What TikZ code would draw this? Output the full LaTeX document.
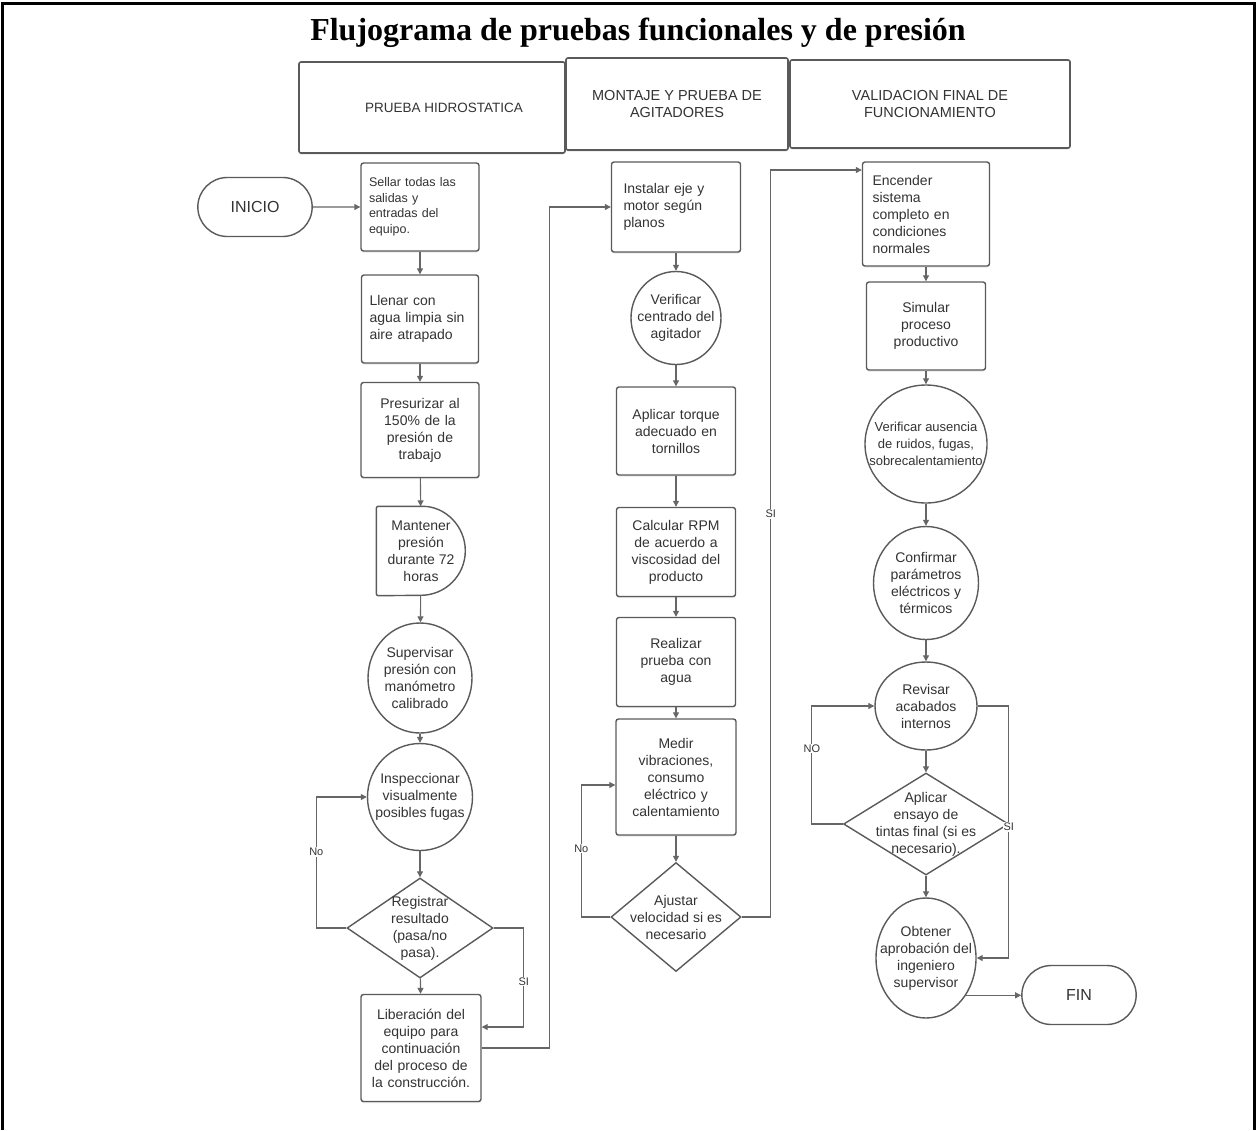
\documentclass[tikz,border=0pt]{standalone}
\usepackage{fontspec}
\setmainfont{Liberation Sans}
\newfontfamily\titlefont{Liberation Serif}
\usetikzlibrary{arrows.meta,shapes.geometric,shapes.misc,shadows}
\definecolor{lucline}{HTML}{666666}
\definecolor{lucedge}{HTML}{5A5A5A}
\definecolor{luctext}{HTML}{333333}
\tikzset{
  lane/.style={draw=lucedge, rounded corners=2pt, line width=1.6pt, fill=white,
               align=center, text=luctext, font=\fontsize{14.5}{17}\selectfont,
               drop shadow={shadow xshift=0pt, shadow yshift=-1.5pt, opacity=0.2}},
  box/.style={draw=lucedge, rounded corners=2.5pt, line width=1.4pt, fill=white,
              inner sep=0pt, text=luctext, font=\fontsize{14}{17}\selectfont,
              drop shadow={shadow xshift=0pt, shadow yshift=-1.5pt, opacity=0.2}},
  boxl/.style={box, align=left},
  boxc/.style={box, align=center},
  oval/.style={ellipse, draw=lucedge, line width=1.4pt, fill=white, inner sep=0pt},
  dec/.style={diamond, draw=lucedge, line width=1.4pt, fill=white, inner sep=0pt},
  term/.style={rounded rectangle, draw=lucedge, line width=1.4pt, fill=white,
               text=luctext, font=\fontsize{16}{19}\selectfont,
               minimum width=121pt, minimum height=59pt},
  txt/.style={align=center, text=luctext, font=\fontsize{14}{17}\selectfont, inner sep=0pt},
  arrow/.style={-{Triangle[width=6pt,length=6pt]}, line width=1.1pt, lucline},
  lbl/.style={fill=white, inner sep=1pt, text=luctext, font=\fontsize{11}{13}\selectfont},
}

\begin{document}
\begin{tikzpicture}[x=1pt, y=-1pt]
  \useasboundingbox (0,0) rectangle (1257,1130);
  % page frame (open at the bottom)
  \draw[line width=3pt] (2,1130) -- (2,3) -- (1254,3) -- (1254,1130);

  \node[font=\titlefont\bfseries\fontsize{32}{38}\selectfont, anchor=base] (title)
    at (638,40) {Flujograma de pruebas funcionales y de presión};

  % lanes
  \node[lane, minimum width=266pt, minimum height=91pt, font=\fontsize{13.5}{16}\selectfont]
    (laneA) at (432,107.5) {\hspace*{24pt}PRUEBA HIDROSTATICA};
  \node[lane, minimum width=280pt, minimum height=88pt] (laneC) at (930,104) {VALIDACION FINAL DE\\FUNCIONAMIENTO};
  \node[lane, minimum width=222pt, minimum height=92pt] (laneB) at (677,104) {MONTAJE Y PRUEBA DE\\AGITADORES};

  % prueba hidrostatica
  \node[term] (ini) at (255,207) {INICIO};
  \node[boxl, minimum width=118pt, minimum height=88pt, text width=102pt,
        font=\fontsize{12.5}{15.5}\selectfont] (sel) at (420,207)
        {Sellar todas las\\salidas y\\entradas del\\equipo.};
  \node[boxl, minimum width=117pt, minimum height=88pt, text width=101pt] (lle) at (420,319)
        {Llenar con\\agua limpia sin\\aire atrapado};
  \node[boxc, minimum width=118pt, minimum height=95pt, text width=108pt] (pre) at (420,430)
        {Presurizar al\\150\% de la\\presión de\\trabajo};
  \node[txt, minimum width=89pt, minimum height=89pt] (man) at (421,551)
        {Mantener\\presión\\durante 72\\horas};
  \draw[draw=lucedge, line width=1.4pt, rounded corners=2pt] (man.north west) -- ++(44.5,0)
        [sharp corners] arc[start angle=-90, end angle=90, radius=44.5]
        [rounded corners=2pt] -- (man.south west) -- cycle;
  \node[oval, minimum width=104pt, minimum height=110pt,
        label={[txt]center:Supervisar\\presión con\\manómetro\\calibrado}] (sup) at (420,678) {};
  \node[oval, minimum width=105pt, minimum height=107pt,
        label={[txt]center:Inspeccionar\\visualmente\\posibles fugas}] (ins) at (420,797) {};
  \node[dec, minimum width=146pt, minimum height=100pt,
        label={[txt]center:Registrar\\resultado\\(pasa/no\\pasa).}] (reg) at (420,928) {};
  \node[boxc, minimum width=120pt, minimum height=107pt, text width=112pt] (lib) at (421,1048)
        {Liberación del\\equipo para\\continuación\\del proceso de\\la construcción.};

  % montaje y prueba de agitadores
  \node[boxl, minimum width=129pt, minimum height=90pt, text width=105pt] (inst) at (676,207)
        {Instalar eje y\\motor según\\planos};
  \node[oval, minimum width=90pt, minimum height=93pt,
        label={[txt]center:Verificar\\centrado del\\agitador}] (ver) at (676,318) {};
  \node[boxc, minimum width=119pt, minimum height=88pt, text width=110pt] (apl) at (676,431)
        {Aplicar torque\\adecuado en\\tornillos};
  \node[boxc, minimum width=119pt, minimum height=89pt, text width=110pt] (cal) at (676,552)
        {Calcular RPM\\de acuerdo a\\viscosidad del\\producto};
  \node[boxc, minimum width=119pt, minimum height=89pt, text width=110pt] (rea) at (676,662)
        {Realizar\\prueba con\\agua};
  \node[boxc, minimum width=120pt, minimum height=116pt, text width=110pt] (med) at (676,777)
        {Medir\\vibraciones,\\consumo\\eléctrico y\\calentamiento};
  \node[dec, minimum width=130pt, minimum height=109pt,
        label={[txt]center:Ajustar\\velocidad si es\\necesario}] (aju) at (676,917) {};

  % validacion final de funcionamiento
  \node[boxl, minimum width=127pt, minimum height=104pt, text width=107pt] (enc) at (926,214)
        {Encender\\sistema\\completo en\\condiciones\\normales};
  \node[boxc, minimum width=119pt, minimum height=88pt, text width=110pt] (sim) at (926,326)
        {Simular\\proceso\\productivo};
  \node[oval, minimum width=122pt, minimum height=118pt,
        label={[txt, font=\fontsize{13}{17}\selectfont]center:Verificar ausencia\\de ruidos, fugas,\\sobrecalentamiento}]
        (vau) at (926,444) {};
  \node[oval, minimum width=105pt, minimum height=113pt,
        label={[txt]center:Confirmar\\parámetros\\eléctricos y\\térmicos}] (con) at (926,583) {};
  \node[oval, minimum width=102pt, minimum height=88pt,
        label={[txt]center:Revisar\\acabados\\internos}] (rev) at (926,706) {};
  \node[dec, minimum width=165pt, minimum height=102pt,
        label={[txt]center:Aplicar\\ensayo de\\tintas final (si es\\necesario).}] (ens) at (926,824) {};
  \node[oval, minimum width=100pt, minimum height=120pt,
        label={[txt]center:Obtener\\aprobación del\\ingeniero\\supervisor}] (obt) at (926,958) {};
  \node[term] (fin) at (1079,995) {FIN};

  % connectors
  \draw[arrow] (ini) -- (sel);
  \draw[arrow] (sel) -- (lle);
  \draw[arrow] (lle) -- (pre);
  \draw[arrow] (pre) -- (man);
  \draw[arrow] (man) -- (sup);
  \draw[arrow] (sup) -- (ins);
  \draw[arrow] (ins) -- (reg);
  \draw[arrow] (reg) -- (lib);
  \draw[arrow] (reg.west) -- ++(-30,0) |- node[lbl, pos=0.29]{No} (ins.west);
  \draw[arrow] (reg.east) -- ++(30,0) |- node[lbl, pos=0.27]{SI} ([yshift=21pt]lib.east);
  \draw[arrow] (lib.east) -- ++(68,0) |- (inst.west);

  \draw[arrow] (inst) -- (ver);
  \draw[arrow] (ver) -- (apl);
  \draw[arrow] (apl) -- (cal);
  \draw[arrow] (cal) -- (rea);
  \draw[arrow] (rea) -- (med);
  \draw[arrow] (med) -- (aju);
  \draw[arrow] (aju.west) -- ++(-29,0) |- node[lbl, pos=0.26]{No} ([yshift=-8pt]med.west);
  \draw[arrow] (aju.east) -- ++(29,0) |- node[lbl, pos=0.27]{SI} ([yshift=44pt]enc.west);

  \draw[arrow] (enc) -- (sim);
  \draw[arrow] (sim) -- (vau);
  \draw[arrow] (vau) -- (con);
  \draw[arrow] (con) -- (rev);
  \draw[arrow] (rev) -- (ens);
  \draw[arrow] (ens) -- (obt);
  \draw[arrow] (ens.west) -- ++(-31,0) |- node[lbl, pos=0.32]{NO} (rev.west);
  \draw[arrow] (rev.east) -- ++(31,0) |- node[lbl, pos=0.24]{SI} (obt.east);
  \draw[arrow] (obt.-43) -- (obt.-43 -| fin.west);
\end{tikzpicture}
\end{document}
